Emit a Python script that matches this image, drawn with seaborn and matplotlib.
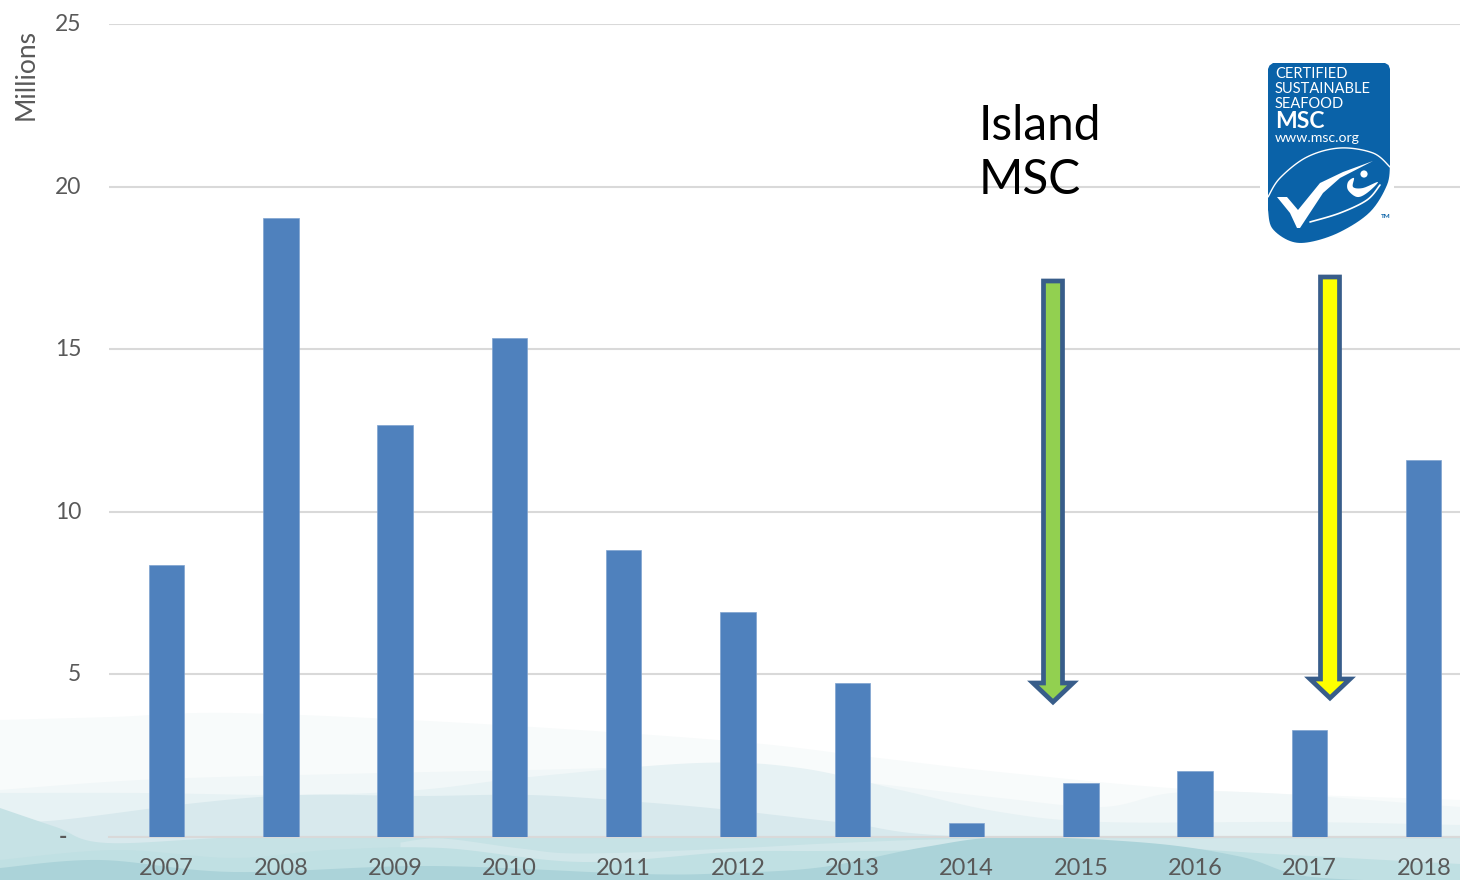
import numpy as np
import pandas as pd
import matplotlib
matplotlib.use("Agg")
import matplotlib.pyplot as plt
import seaborn as sns
from matplotlib.patches import Polygon, Circle, Rectangle
from matplotlib.transforms import ScaledTranslation

# ---- data ----
years = ["2007","2008","2009","2010","2011","2012","2013","2014","2015","2016","2017","2018"]
values = [8.35,19.03,12.67,15.34,8.81,6.92,4.75,0.43,1.66,2.03,3.29,11.59]
ytick_values = [0,5,10,15,20,25]
ytick_labels = ["-","5","10","15","20","25"]
ylabel = "Millions"
note = "Island\nMSC"

W, H = 1460, 880
sns.set_theme(style="white")
plt.rcParams['font.family'] = ['Lato', 'DejaVu Sans']
fig = plt.figure(figsize=(W/100, H/100), dpi=100, facecolor="white")

def spline(pts, n=14, closed=False):
    p = np.array(pts, float)
    if closed:
        p = np.vstack([p[-1], p, p[0], p[1]])
    else:
        p = np.vstack([p[0], p, p[-1]])
    out = []
    for i in range(1, len(p)-2):
        t = np.linspace(0, 1, n, endpoint=False)[:, None]
        a, b, c, d = p[i-1], p[i], p[i+1], p[i+2]
        out.append(0.5*((2*b) + (-a+c)*t + (2*a-5*b+4*c-d)*t**2 + (-a+3*b-3*c+d)*t**3))
    out = np.vstack(out)
    return np.vstack([out, p[-2]]) if not closed else out

# ---- background waves (pixel coordinates, decorative) ----
bg = fig.add_axes([0, 0, 1, 1], zorder=0)
bg.set_xlim(0, W); bg.set_ylim(H, 0); bg.axis("off")
waves = [
    ("#F8FBFB", [(0,720),(112,717),(233,713),(465,723),(730,741),(870,757),(1009,773),(1200,790),(1460,800)]),
    ("#F1F7F8", [(0,790),(140,780),(300,775),(530,770),(730,767),(870,783),(1000,798),(1102,807),(1172,793),(1265,793),(1460,807)]),
    ("#E7F2F4", [(0,793),(140,793),(298,795),(419,790),(530,777),(698,763),(800,768),(900,790),(1000,812),(1102,822),(1300,822),(1460,825)]),
    ("#D8E9ED", [(0,822),(60,820),(196,803),(298,795),(419,796),(530,795),(640,802),(730,810),(846,823),(986,837),(1460,837)]),
    ("#C6E2E5", [(0,808),(56,827),(107,843),(250,837),(442,838),(730,838),(986,838),(1460,838)]),
    ("#D2E7EA", [(400,842),(442,838),(520,848),(582,853),(730,848),(850,842),(1009,838),(1460,838)]),
    ("#C0E0E3", [(0,860),(116,850),(233,858),(330,850),(442,848),(582,862),(730,852),(820,851),(916,850),(1009,842),(1100,842),(1240,852),(1460,864)]),
    ("#ABD3D9", [(0,868),(100,860),(233,872),(430,866),(640,874),(730,873),(823,867),(925,847),(1009,837),(1149,843),(1242,857),(1312,877),(1460,882)]),
]
for col, pts in waves:
    c = spline(pts)
    bg.fill_between(c[:, 0], c[:, 1], H + 2, color=col, lw=0)

# ---- chart ----
ax = fig.add_axes([109/W, 1-837/H, (W-109)/W, (837-24)/H], zorder=1)
ax.patch.set_alpha(0)
df = pd.DataFrame({"year": years, "value": values})
sns.barplot(data=df, x="year", y="value", color="#4F81BD", saturation=1,
            width=0.31, ax=ax, zorder=3, edgecolor="#7FA3D0", linewidth=0.5)
ax.set_xlim(-0.503, 11.317)
ax.set_ylim(0, 25)
ax.set_yticks(ytick_values, ytick_labels)
ax.grid(axis="y", color="#D9D9D9", lw=1.5, zorder=0)
ax.grid(axis="x", visible=False)
ax.set_axisbelow(True)
for s in ["top", "right", "left"]:
    ax.spines[s].set_visible(False)
ax.spines["bottom"].set_color("#D9D9D9")
ax.spines["bottom"].set_linewidth(1.5)
ax.tick_params(axis="y", length=0, pad=20, labelsize=16.5, labelcolor="#595959")
ax.tick_params(axis="x", length=0, pad=15, labelsize=17, labelcolor="#595959")
for t in ax.get_yticklabels():
    t.set_transform(t.get_transform() + ScaledTranslation(0, 1.5/100, fig.dpi_scale_trans))
dash = ax.get_yticklabels()[0]
dash.set_transform(dash.get_transform() + ScaledTranslation(-14/100, 0, fig.dpi_scale_trans))
dash.set_fontweight("bold")
ax.set_xlabel("")
ax.set_ylabel("")
fig.text(26/W, 1-75/H, ylabel, rotation=90, ha="center", va="center", fontsize=19, color="#595959")

# ---- overlay: annotation, arrows, logo ----
ov = fig.add_axes([0, 0, 1, 1], zorder=2)
ov.set_xlim(0, W); ov.set_ylim(H, 0); ov.axis("off")
ov.text(979, 153, note, ha="left", va="center", fontsize=34.5, color="black", linespacing=1.3)

def arrow(cx, top, base, tip, col):
    hw, hh = 9.5, 20
    ov.add_patch(Polygon([(cx-hw,top),(cx+hw,top),(cx+hw,base),(cx+hh,base),(cx,tip),
                          (cx-hh,base),(cx-hw,base)], closed=True, fc=col, ec="#385D8A",
                         lw=3.4, joinstyle="miter", zorder=5))
arrow(1053, 281, 683, 702, "#92D050")
arrow(1330, 277, 679, 698, "#FFFF00")

# logo
LOGO = "#0A62A8"
ov.add_patch(Rectangle((1260, 170), 134, 30, fc="white", ec="none", zorder=5))
bottom = spline([(1390,165),(1387,185),(1370,212),(1340,232),(1310,242),(1290,241),(1272,228),(1268,210)], n=8)
outline = np.vstack([[(1268,69),(1269.5,65.5),(1273,63),(1385,63),(1388.5,65),(1390,69)], bottom])
ov.add_patch(Polygon(outline, closed=True, fc=LOGO, ec="none", zorder=6))
arc = spline([(1268,197),(1280,178),(1307,157),(1340,148),(1373,153),(1390,167)])
ov.plot(arc[:, 0], arc[:, 1], color="white", lw=1, zorder=7)
ov.add_patch(Polygon([(1277,197),(1287,197),(1298,210),(1320,183),(1343,172),(1373,161),(1340,178),
                      (1323,193),(1300,228),(1297,228),(1290,213)], closed=True, fc="white", ec="none", zorder=7))
tail = spline([(1310,222),(1340,213),(1367,200),(1380,185)])
ov.plot(tail[:, 0], tail[:, 1], color="white", lw=1.2, zorder=7)
ov.add_patch(Polygon(spline([(1378,182),(1367,193),(1357,197),(1348,190),(1348,182),(1354,178),
                             (1353,187),(1363,188)], closed=True, n=6), closed=True, fc="white", ec="none", zorder=7))
ov.add_patch(Circle((1364, 174), 3.6, fc="white", ec="none", zorder=7))
for txt, y in [("CERTIFIED", 74.5), ("SUSTAINABLE", 89), ("SEAFOOD", 103.5)]:
    ov.text(1275, y, txt, color="white", fontsize=10.5, va="center", ha="left", zorder=8)
ov.text(1275, 122, "MSC", color="white", fontsize=16.5, fontweight="bold", va="center", ha="left", zorder=8)
ov.text(1275, 138, "www.msc.org", color="white", fontsize=10.2, va="center", ha="left", zorder=8)
ov.text(1386, 216, "TM", color=LOGO, fontsize=4.5, fontweight="bold", va="center", ha="center", zorder=8)

fig.savefig("out.png", dpi=100)
